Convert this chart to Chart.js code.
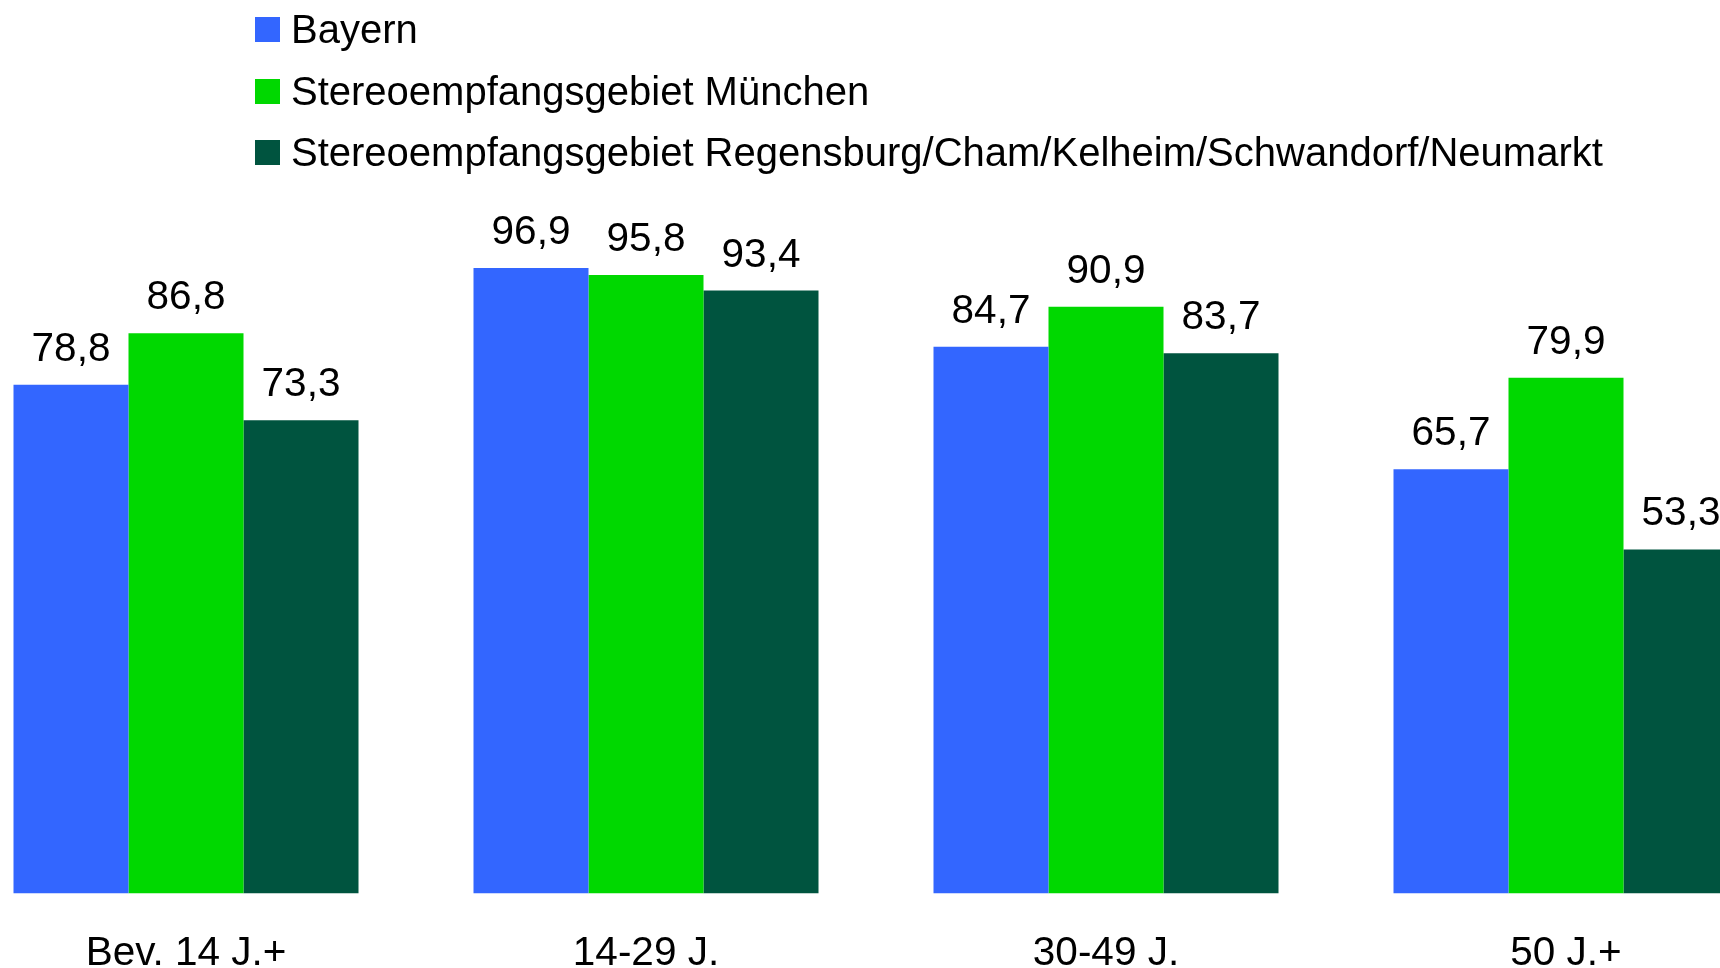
<!DOCTYPE html>
<html lang="de">
<head>
<meta charset="utf-8">
<title>Reichweite nach Alter</title>
<script src="https://cdn.jsdelivr.net/npm/chart.js@4.4.1/dist/chart.umd.min.js"></script>
<style>
    html, body {
        margin: 0;
        padding: 0;
        width: 1720px;
        height: 968px;
        overflow: hidden;
        background: #ffffff;
        font-family: "Liberation Sans", Arial, sans-serif;
    }
    #chartBox {
        position: absolute;
        left: -44.5px;
        top: 0;
        width: 1840px;
        height: 1006px;
    }
    #legend {
        position: absolute;
        left: 255px;
        top: -1px;
        margin: 0;
        padding: 0;
        list-style: none;
        font-size: 40px;
        color: #000;
    }
    #legend li {
        display: flex;
        align-items: center;
        height: 61.5px;
        line-height: 61.5px;
        white-space: nowrap;
    }
    #legend .box {
        display: inline-block;
        width: 25px;
        height: 25px;
        margin-right: 11px;
    }
</style>
</head>
<body>
<div id="chartBox"><canvas id="chart"></canvas></div>
<ul id="legend"></ul>

<script>
// Kategorien (Altersgruppen)
const categories = ['Bev. 14 J.+', '14-29 J.', '30-49 J.', '50 J.+'];

// Werte je Gebiet
const bayern = [78.8, 96.9, 84.7, 65.7];
const muenchen = [86.8, 95.8, 90.9, 79.9];
const regensburg = [73.3, 93.4, 83.7, 53.3];

const seriesNames = [
    'Bayern',
    'Stereoempfangsgebiet München',
    'Stereoempfangsgebiet Regensburg/Cham/Kelheim/Schwandorf/Neumarkt'
];
const seriesColors = ['#3366ff', '#00d800', '#00543f'];

const FONT = '"Liberation Sans", Arial, sans-serif';

// Werte über den Balken zeichnen (deutsches Komma)
const valueLabels = {
    id: 'valueLabels',
    afterDatasetsDraw(chart) {
        const ctx = chart.ctx;
        ctx.save();
        ctx.font = '40.5px ' + FONT;
        ctx.fillStyle = '#000000';
        ctx.textAlign = 'center';
        ctx.textBaseline = 'alphabetic';
        chart.data.datasets.forEach((ds, i) => {
            const meta = chart.getDatasetMeta(i);
            meta.data.forEach((bar, j) => {
                const text = ds.data[j].toFixed(1).replace('.', ',');
                ctx.fillText(text, bar.x, bar.y - 24);
            });
        });
        ctx.restore();
    }
};

const chart = new Chart(document.getElementById('chart'), {
    type: 'bar',
    data: {
        labels: categories,
        datasets: [
            { label: seriesNames[0], data: bayern, backgroundColor: seriesColors[0] },
            { label: seriesNames[1], data: muenchen, backgroundColor: seriesColors[1] },
            { label: seriesNames[2], data: regensburg, backgroundColor: seriesColors[2] }
        ]
    },
    options: {
        responsive: true,
        maintainAspectRatio: false,
        animation: false,
        layout: {
            padding: { top: 248, bottom: 0, left: 0, right: 0 }
        },
        datasets: {
            bar: {
                categoryPercentage: 0.75,
                barPercentage: 1.0,
                borderWidth: 0
            }
        },
        plugins: {
            legend: { display: false },
            tooltip: { enabled: false }
        },
        scales: {
            x: {
                grid: { display: false },
                border: { display: false },
                ticks: {
                    color: '#000000',
                    padding: 28,
                    font: { family: FONT, size: 40.5 }
                }
            },
            y: {
                display: false,
                min: 0,
                max: 100
            }
        }
    },
    plugins: [valueLabels]
});

// Legende als HTML aus den Datensätzen erzeugen
const legendEl = document.getElementById('legend');
chart.data.datasets.forEach(ds => {
    const li = document.createElement('li');
    li.innerHTML = `<span class="box" style="background:${ds.backgroundColor}"></span>${ds.label}`;
    legendEl.appendChild(li);
});
</script>
</body>
</html>
